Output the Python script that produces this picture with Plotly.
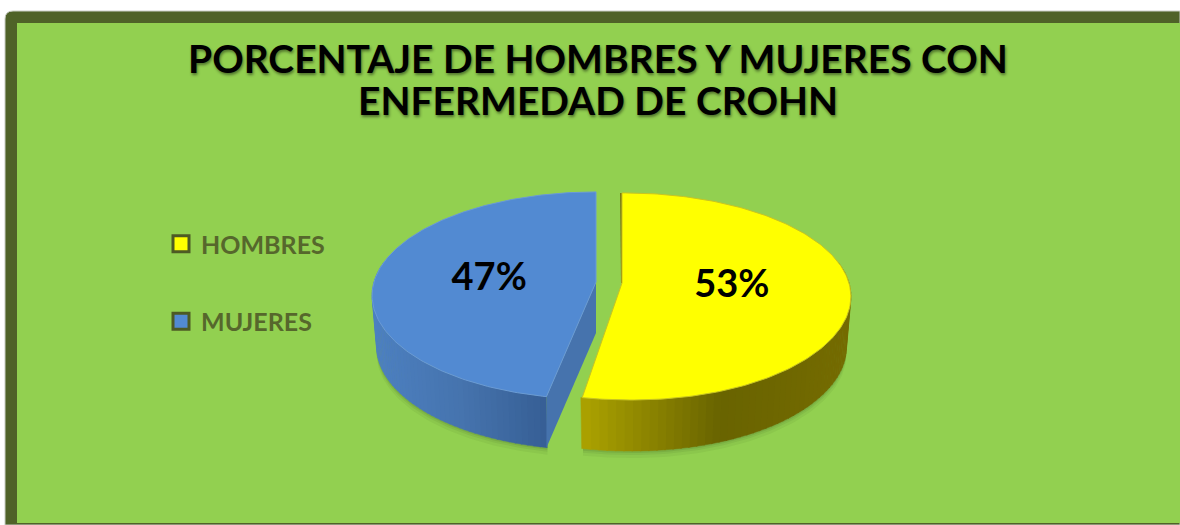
import numpy as np
import plotly.graph_objects as go

categorias = ["HOMBRES", "MUJERES"]
valores = [53, 47]

titulo_lineas = ["PORCENTAJE DE HOMBRES Y MUJERES CON", "ENFERMEDAD DE CROHN"]

AMARILLO = "#ffff00"
AZUL = "#528ad2"
VERDE = "#92d050"
OLIVA = "#4f6228"
TEXTO_LEYENDA = "#56672c"
FUENTE = "Lato"

# pie drawn in pixel-like axis units, tilted by hand since plotly has no 3D pie
B, K = 101.8, 0.13
FONDO = 51

############################################################
# GEOMETRY
############################################################


def borde(t, cx, cy, a, lean=0):
    t = np.radians(t)
    u, v = np.sin(t), -np.cos(t)
    x = cx + a * u / (1 - K * v) + lean * np.clip(v, 0, 1) ** 4
    y = cy + B * v / (1 - K * v)
    return x, y


def mezcla(c1, c2, f):
    return "rgb(%d,%d,%d)" % tuple(c1[i] + (c2[i] - c1[i]) * f for i in range(3))


corte = 360 * valores[0] / sum(valores)

hombres = dict(cx=624, cy=283, a=225, lean=7)
mujeres = dict(cx=596, cy=282, a=222, lean=-2)

fig = go.Figure()

############################################################
# SHADOW
############################################################

for extra, alfa in [(7, 0.06), (4, 0.08), (2, 0.1)]:
    for pieza, t0, t1 in [(hombres, 80, corte), (mujeres, corte, 280)]:
        t = np.linspace(t0, t1, 80)
        x, y = borde(t, **pieza)
        x = pieza["cx"] + (x - pieza["cx"]) * 0.98
        fig.add_trace(go.Scatter(
            x=np.r_[x, x[::-1]],
            y=np.r_[y + FONDO + extra, y[::-1]],
            mode="lines", line_width=0, fill="toself",
            fillcolor=f"rgba(40,60,20,{alfa})",
            hoverinfo="skip", showlegend=False,
        ))

############################################################
# SIDE WALLS
############################################################


def pared(pieza, t0, t1, stops):
    bordes = np.linspace(t0, t1, 61)
    for i in range(60):
        t = np.linspace(bordes[i], bordes[i + 1] + 0.3, 4)
        x, y = borde(t, **pieza)
        xb = pieza["cx"] + (x - pieza["cx"]) * 0.98
        xp = min(max(x.mean(), stops[0][0]), stops[-1][0])
        color = stops[0][1]
        for (x0, c0), (x1, c1) in zip(stops, stops[1:]):
            if x0 <= xp <= x1:
                color = mezcla(c0, c1, (xp - x0) / (x1 - x0))
        fig.add_trace(go.Scatter(
            x=np.r_[x, xb[::-1]],
            y=np.r_[y, y[::-1] + FONDO],
            mode="lines", line_width=0.5, line_color=color,
            fill="toself", fillcolor=color,
            hoverinfo="skip", showlegend=False,
        ))


pared(hombres, 78, corte, [(570, (178, 168, 0)), (720, (105, 100, 0)), (860, (118, 108, 0))])
pared(mujeres, corte, 282, [(360, (78, 130, 196)), (460, (70, 116, 174)), (550, (54, 94, 148))])

# flat cut faces
xf, yf = borde(corte, **mujeres)
fig.add_trace(go.Scatter(
    x=[mujeres["cx"], mujeres["cx"], xf, xf],
    y=[mujeres["cy"], mujeres["cy"] + FONDO, yf + FONDO, yf],
    mode="lines", line_width=0, fill="toself", fillcolor="#4673ad",
    hoverinfo="skip", showlegend=False,
))

x0, y0 = borde(0, **hombres)
fig.add_trace(go.Scatter(
    x=[x0 - 3, hombres["cx"] - 2],
    y=[y0, hombres["cy"]],
    mode="lines", line=dict(color="#7c7a10", width=2),
    hoverinfo="skip", showlegend=False,
))

############################################################
# TOP FACES
############################################################

t = np.linspace(0, corte, 200)
x, y = borde(t, **hombres)
fig.add_trace(go.Scatter(
    x=np.r_[hombres["cx"] - 2, x - 2 * (t < 1), hombres["cx"] - 2],
    y=np.r_[hombres["cy"], y, hombres["cy"]],
    mode="lines", line=dict(color="#c9c421", width=1),
    fill="toself", fillcolor=AMARILLO,
    hoverinfo="skip", showlegend=False,
))

t = np.linspace(corte, 360, 200)
x, y = borde(t, **mujeres)
fig.add_trace(go.Scatter(
    x=np.r_[mujeres["cx"], x, mujeres["cx"]],
    y=np.r_[mujeres["cy"], y, mujeres["cy"]],
    mode="lines", line=dict(color="#6a9ad6", width=1),
    fill="toself", fillcolor=AZUL,
    hoverinfo="skip", showlegend=False,
))

############################################################
# DATA LABELS
############################################################

medio_h = corte / 2
medio_m = (corte + 360) / 2
xh, yh = borde(medio_h, **hombres)
xm, ym = borde(medio_m, **mujeres)
fig.add_trace(go.Scatter(
    x=[hombres["cx"] + (xh - hombres["cx"]) * 0.48 - 1, mujeres["cx"] + (xm - mujeres["cx"]) * 0.48 - 2],
    y=[hombres["cy"] + (yh - hombres["cy"]) * 0.48, mujeres["cy"] + (ym - mujeres["cy"]) * 0.48 + 3],
    mode="text",
    text=[f"{v}%" for v in valores],
    textposition="middle center",
    textfont=dict(family=FUENTE, size=38, color="black", weight="bold"),
    hoverinfo="skip", showlegend=False,
))

############################################################
# LEGEND
############################################################

for nombre, color in zip(categorias, [AMARILLO, AZUL]):
    fig.add_trace(go.Scatter(
        x=[None], y=[None],
        mode="markers",
        name=nombre,
        legendgroup=nombre,
        marker=dict(symbol="square", size=19, color=color, line=dict(color="#4d5a24", width=3)),
    ))

############################################################
# LAYOUT
############################################################

fig.update_xaxes(range=[0, 1180], visible=False, fixedrange=True)
fig.update_yaxes(range=[525, 0], visible=False, fixedrange=True)

fig.update_layout(
    width=1180,
    height=525,
    margin=dict(l=0, r=0, t=0, b=0),
    paper_bgcolor="white",
    plot_bgcolor="white",
    legend=dict(
        x=161 / 1180, xanchor="left",
        y=1 - 221 / 525, yanchor="top",
        tracegroupgap=42,
        itemwidth=30,
        bgcolor="rgba(0,0,0,0)",
        font=dict(family=FUENTE, size=25, color=TEXTO_LEYENDA, weight="bold"),
    ),
    annotations=[
        dict(text=linea, x=598, y=y_linea, xref="x", yref="y", showarrow=False,
             xanchor="center", yanchor="middle",
             font=dict(family=FUENTE, size=39, color="black", weight="bold",
                       shadow="1px 2px 3px rgba(0,0,0,0.45)"))
        for linea, y_linea in zip(titulo_lineas, [58, 100])
    ],
    shapes=[
        dict(type="path", layer="below", xref="x", yref="y",
             path="M 5 19 Q 5 11 13 11 L 1180 11 L 1180 525 L 5 525 Z",
             fillcolor=OLIVA, line=dict(color="#c9cdc4", width=1)),
        dict(type="rect", layer="below", xref="x", yref="y",
             x0=17, y0=23, x1=1181, y1=523,
             fillcolor=VERDE, line_width=0),
    ],
)

# the page's default body margin would push the chart 8px off
fig.write_html(
    "out.html",
    config={"displayModeBar": False},
    post_script="document.body.style.margin = '0';",
)
